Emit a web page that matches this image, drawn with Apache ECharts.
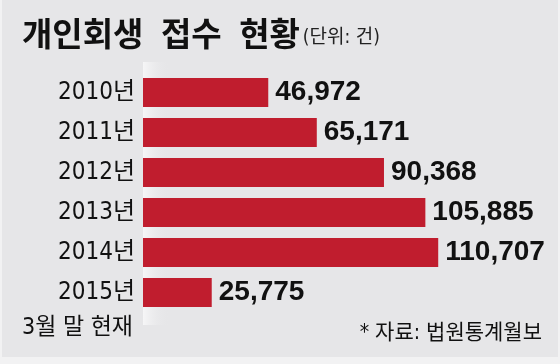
<!DOCTYPE html>
<html><head><meta charset="utf-8">
<script src="https://cdn.jsdelivr.net/npm/echarts@6/dist/echarts.min.js"></script>
<style>html,body{margin:0;padding:0;background:#f2f2f3}#c{width:560px;height:364px}</style>
</head><body><div id="c"></div>
<script>
const categories = ['2010년','2011년','2012년','2013년','2014년','2015년'];
const values = [46972, 65171, 90368, 105885, 110707, 25775];
const titleText = '개인회생 접수 현황';
const unitText = '(단위: 건)';
const noteText = '3월 말 현재';
const sourceText = '* 자료: 법원통계월보';

const narrow = '"DejaVu Sans Condensed", "Noto Sans CJK KR", sans-serif';
const cjk = '"Noto Sans CJK KR", sans-serif';
const titleRich = titleText.split(' ').map(w => '{w|' + w + '}').join('{g| }') + '{u|' + unitText + '}';

const chart = echarts.init(document.getElementById('c'));
chart.setOption({
  backgroundColor: '#f2f2f3',
  animation: false,
  graphic: [
    {type:'rect', z:-10, shape:{x:2,y:0,width:556,height:357}, style:{fill:'#e6e6e8'}},
    {type:'rect', z:-5, shape:{x:143,y:62,width:26,height:263},
      style:{fill:new echarts.graphic.LinearGradient(0,0,1,0,[{offset:0,color:'#f6f6f7'},{offset:1,color:'rgba(230,230,232,0)'}])}}
  ],
  title: [
    {text: titleRich, left: 17, top: 12,
      textStyle: {rich: {
        w: {fontFamily: cjk, fontWeight: 'bold', fontSize: 33, color:'#111'},
        g: {fontFamily: cjk, fontWeight: 'bold', fontSize: 33, padding:[0,5]},
        u: {fontFamily: narrow, fontSize: 19, fontWeight: 'normal', color:'#222', padding:[10,0,0,3]}}}},
    {text: noteText, right: 422, top: 312, textStyle:{fontFamily: narrow, fontSize: 23, fontWeight:'normal', color:'#111'}},
    {text: sourceText, right: 13, top: 318, textStyle:{fontFamily: narrow, fontSize: 21, fontWeight:'normal', color:'#111'}}
  ],
  grid: {left: 143, right: 17, top: 72.5, bottom: 51.5, containLabel: false},
  xAxis: {type:'value', min: 0, max: 150000, show: false},
  yAxis: {type:'category', data: categories, inverse: true,
    axisLine:{show:false}, axisTick:{show:false}, splitLine:{show:false},
    axisLabel:{margin: 8, fontFamily: narrow, fontSize: 24, color:'#111'}},
  series: [{
    type:'bar', data: values, barWidth: 29,
    itemStyle:{color: '#c01d2e'},
    label:{show:true, position:'right', distance: 7, fontFamily: '"Liberation Sans", Arial, sans-serif', fontWeight:'bold', fontSize: 28, color:'#111',
      formatter: p => p.value.toLocaleString('en-US')}
  }]
});
</script></body></html>
